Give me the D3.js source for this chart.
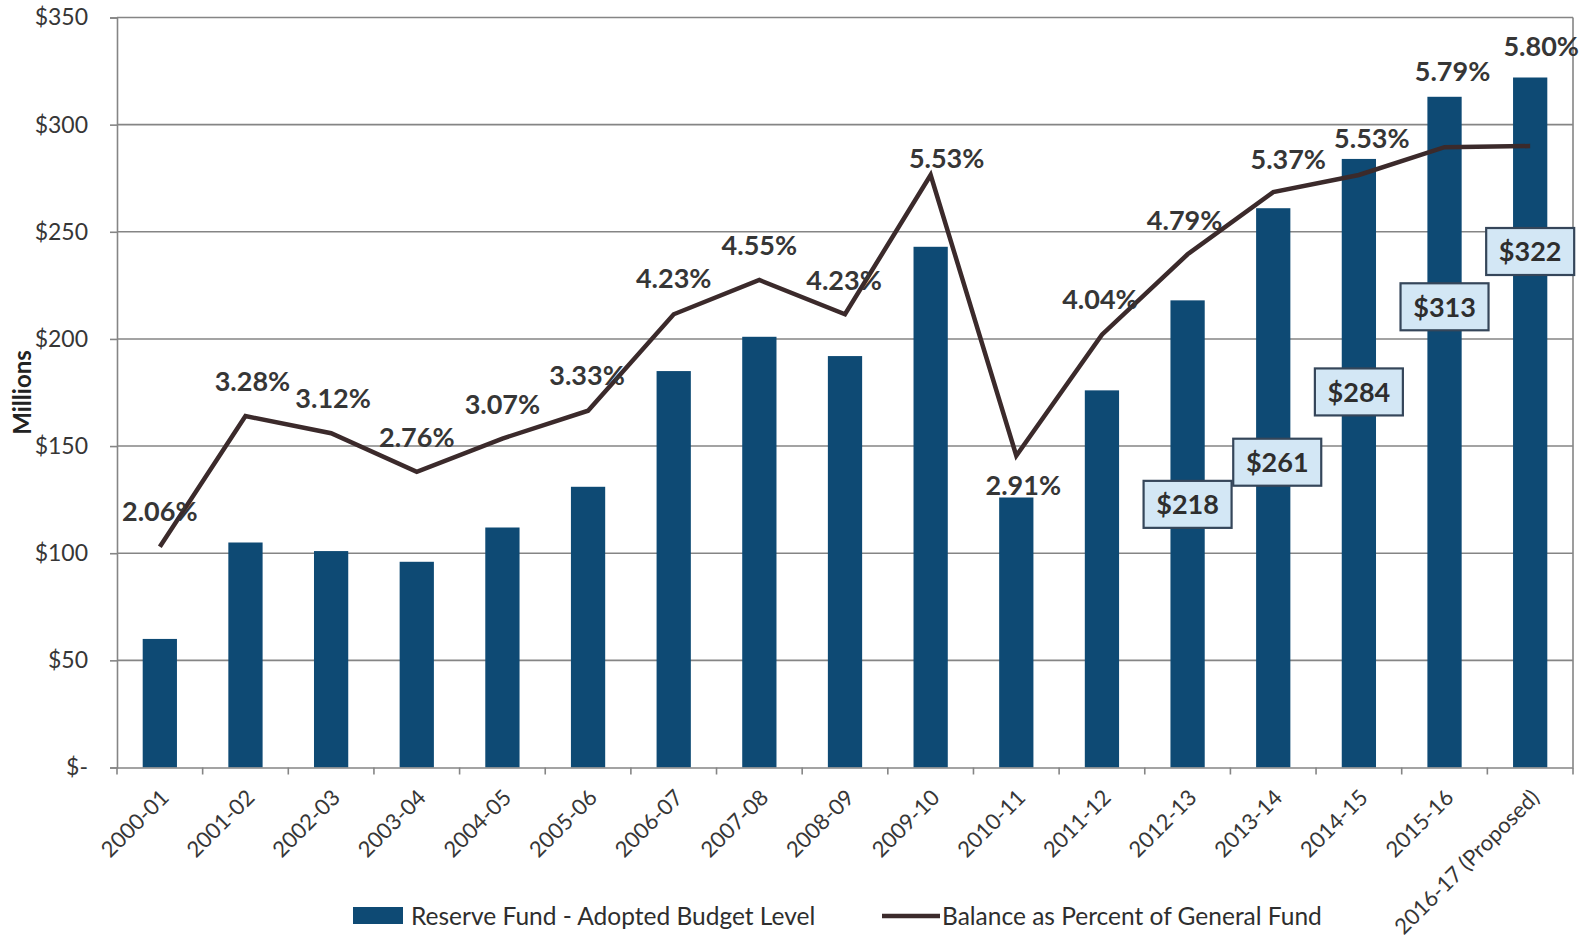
<!DOCTYPE html>
<html>
<head>
<meta charset="utf-8">
<script src="https://cdn.jsdelivr.net/npm/d3@7"></script>
<style>
  html, body { margin: 0; padding: 0; background: #ffffff; }
  svg { display: block; font-family: Lato, "Open Sans", sans-serif; }
</style>
</head>
<body>
<svg id="chart" width="1585" height="942"></svg>
<script>
// ---- data ----
const fiscalYears = [
  "2000-01", "2001-02", "2002-03", "2003-04", "2004-05", "2005-06",
  "2006-07", "2007-08", "2008-09", "2009-10", "2010-11", "2011-12",
  "2012-13", "2013-14", "2014-15", "2015-16", "2016-17 (Proposed)"
];
// Reserve Fund - Adopted Budget Level, $ millions
const reserveFund = [60, 105, 101, 96, 112, 131, 185, 201, 192, 243, 126, 176, 218, 261, 284, 313, 322];
// Balance as Percent of General Fund
const pctOfGeneralFund = [2.06, 3.28, 3.12, 2.76, 3.07, 3.33, 4.23, 4.55, 4.23, 5.53, 2.91, 4.04, 4.79, 5.37, 5.53, 5.79, 5.80];
// Years whose dollar amount is called out in a box
const calloutYears = ["2012-13", "2013-14", "2014-15", "2015-16", "2016-17 (Proposed)"];
const yTickValues = [0, 50, 100, 150, 200, 250, 300, 350];
const seriesNames = ["Reserve Fund - Adopted Budget Level", "Balance as Percent of General Fund"];

// ---- layout (pixel offsets for hand-placed labels) ----
const pctLabelNudge = [
  [0, -35], [7, -35], [2, -35], [0, -34], [0, -34], [-1, -35],
  [0, -36], [0, -34], [-1, -34], [16, -16], [7, 30], [-2, -35],
  [-3, -34], [15, -33], [13, -36], [8, -76], [11, -100]
];
const calloutNudge = [[0, 204], [4, 254], [0, 233], [0, 210], [0, 174]];

const plot = { left: 117, right: 1573, top: 17.5, bottom: 767.5 };
const barColor = "#0e4a74";
const lineColor = "#3b2a2b";
const gridColor = "#858585";
const textColor = "#363636";

const svg = d3.select("#chart");

const x = d3.scaleBand()
  .domain(fiscalYears)
  .range([plot.left, plot.right])
  .paddingInner(0.6)
  .paddingOuter(0.3);
const step = x.step();
const cx = d => x(d) + x.bandwidth() / 2;

const y = d3.scaleLinear().domain([0, 350]).range([plot.bottom, plot.top]);
const y2 = d3.scaleLinear().domain([0, 7]).range([plot.bottom, plot.top]);

// gridlines
svg.append("g").selectAll("line")
  .data(yTickValues.filter(v => v > 0))
  .join("line")
  .attr("x1", plot.left).attr("x2", plot.right)
  .attr("y1", d => y(d)).attr("y2", d => y(d))
  .attr("stroke", gridColor).attr("stroke-width", 1.6);

// right-hand axis line
svg.append("line")
  .attr("x1", plot.right).attr("x2", plot.right)
  .attr("y1", y2(7)).attr("y2", y2(0))
  .attr("stroke", gridColor).attr("stroke-width", 1.6);

// bars
svg.append("g").selectAll("rect")
  .data(fiscalYears)
  .join("rect")
  .attr("x", d => x(d))
  .attr("width", x.bandwidth())
  .attr("y", (d, i) => y(reserveFund[i]))
  .attr("height", (d, i) => y(0) - y(reserveFund[i]))
  .attr("fill", barColor);

// left axis
const yAxis = svg.append("g")
  .attr("transform", `translate(${plot.left},0)`)
  .call(d3.axisLeft(y).tickValues(yTickValues).tickSize(7).tickPadding(22)
    .tickFormat(v => v === 0 ? "$-" : "$" + v));
yAxis.select(".domain").attr("stroke", gridColor).attr("stroke-width", 1.6);
yAxis.selectAll(".tick line").attr("stroke", gridColor).attr("stroke-width", 1.6);
yAxis.selectAll(".tick text")
  .attr("fill", textColor).style("font-size", "23px").style("font-family", "Lato, sans-serif");

// bottom axis
const xAxis = svg.append("g")
  .attr("transform", `translate(0,${plot.bottom})`)
  .call(d3.axisBottom(x).tickSize(0).tickFormat(""));
xAxis.select(".domain").attr("stroke", gridColor).attr("stroke-width", 1.6);
svg.append("g").selectAll("line")
  .data(d3.range(fiscalYears.length + 1))
  .join("line")
  .attr("x1", i => plot.left + i * step).attr("x2", i => plot.left + i * step)
  .attr("y1", plot.bottom).attr("y2", plot.bottom + 7)
  .attr("stroke", gridColor).attr("stroke-width", 1.6);

svg.append("g").selectAll("text")
  .data(fiscalYears)
  .join("text")
  .attr("transform", d => `translate(${cx(d) + 5},${plot.bottom + 26}) rotate(-45)`)
  .attr("text-anchor", "end")
  .attr("dy", "0.35em")
  .attr("fill", textColor)
  .style("font-size", "22px")
  .text(d => d);

// axis title
svg.append("text")
  .attr("transform", `translate(23,${(plot.top + plot.bottom) / 2}) rotate(-90)`)
  .attr("text-anchor", "middle")
  .attr("dy", "0.35em")
  .attr("fill", "#222")
  .style("font-size", "24px").style("font-weight", 700)
  .text("Millions");

// percent line
const line = d3.line()
  .x((d, i) => cx(fiscalYears[i]))
  .y(d => y2(d));
svg.append("path")
  .datum(pctOfGeneralFund)
  .attr("d", line)
  .attr("fill", "none")
  .attr("stroke", lineColor)
  .attr("stroke-width", 4.5)
  .attr("stroke-linejoin", "miter");

// percent labels
svg.append("g").selectAll("text")
  .data(pctOfGeneralFund)
  .join("text")
  .attr("x", (d, i) => cx(fiscalYears[i]) + pctLabelNudge[i][0])
  .attr("y", (d, i) => y2(d) + pctLabelNudge[i][1])
  .attr("dy", "0.35em")
  .attr("text-anchor", "middle")
  .attr("fill", textColor)
  .style("font-size", "27px").style("font-weight", 700)
  .text(d => d.toFixed(2) + "%");

// dollar callouts
const callouts = svg.append("g").selectAll("g")
  .data(calloutYears)
  .join("g")
  .attr("transform", (d, k) => {
    const i = fiscalYears.indexOf(d);
    return `translate(${cx(d) + calloutNudge[k][0]},${y(reserveFund[i]) + calloutNudge[k][1]})`;
  });
callouts.append("rect")
  .attr("x", -44).attr("y", -23.5).attr("width", 88).attr("height", 47)
  .attr("fill", "#d3e7f5").attr("stroke", "#35465a").attr("stroke-width", 2.2);
callouts.append("text")
  .attr("text-anchor", "middle").attr("dy", "0.36em")
  .attr("fill", "#2e2e2e")
  .style("font-size", "27px").style("font-weight", 700)
  .text(d => "$" + reserveFund[fiscalYears.indexOf(d)]);

// legend
const legend = svg.append("g");
legend.append("rect")
  .attr("x", 353).attr("y", 907).attr("width", 50).attr("height", 17)
  .attr("fill", barColor);
legend.append("text")
  .attr("x", 411).attr("y", 916).attr("dy", "0.35em")
  .attr("fill", "#2e2e2e").style("font-size", "24.5px")
  .text(seriesNames[0]);
legend.append("line")
  .attr("x1", 882).attr("x2", 940).attr("y1", 916).attr("y2", 916)
  .attr("stroke", lineColor).attr("stroke-width", 4.5);
legend.append("text")
  .attr("x", 942).attr("y", 916).attr("dy", "0.35em")
  .attr("fill", "#2e2e2e").style("font-size", "24.5px")
  .text(seriesNames[1]);
</script>
</body>
</html>
